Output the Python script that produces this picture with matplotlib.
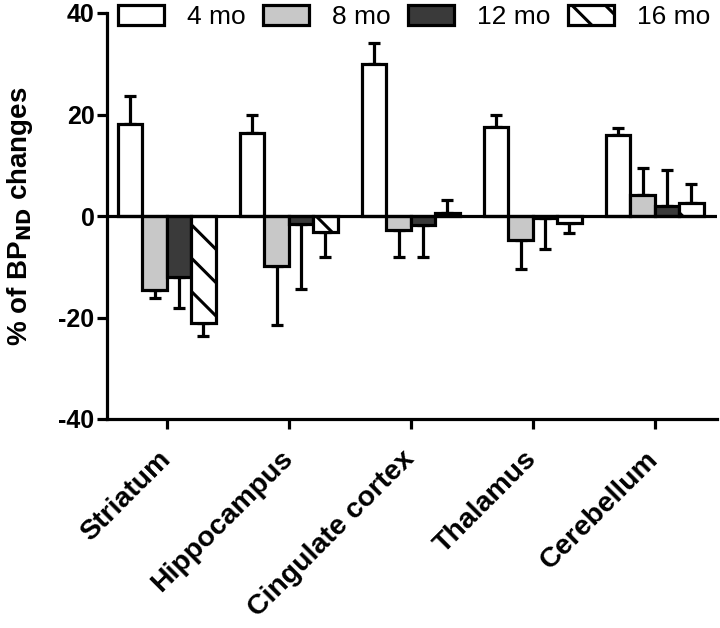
import numpy as np
import matplotlib
matplotlib.use("Agg")
import matplotlib.pyplot as plt

plt.rcParams['font.family'] = ['Liberation Sans', 'DejaVu Sans']
plt.rcParams['axes.unicode_minus'] = False
plt.rcParams['hatch.linewidth'] = 2.2

regions = ["Striatum", "Hippocampus", "Cingulate cortex", "Thalamus", "Cerebellum"]
groups = ["4 mo", "8 mo", "12 mo", "16 mo"]

# mean % change of BPND per region, one list per age
mo4 = [18.2, 16.3, 30.0, 17.6, 15.9]
mo8 = [-14.5, -9.8, -2.7, -4.7, 4.1]
mo12 = [-12.0, -1.5, -1.8, -0.3, 2.0]
mo16 = [-21.0, -3.2, 0.5, -1.4, 2.5]

# SEM
err4 = [5.4, 3.7, 4.0, 2.3, 1.5]
err8 = [1.7, 11.6, 5.3, 5.8, 5.4]
err12 = [6.2, 12.9, 6.3, 6.3, 7.1]
err16 = [2.7, 4.9, 2.6, 2.0, 3.8]

means = [mo4, mo8, mo12, mo16]
errs = [err4, err8, err12, err16]
colors = ["white", "#c8c8c8", "#3a3a3a", "white"]
hatches = [None, None, None, "\\"]

fig = plt.figure(figsize=(7.2, 6.28), dpi=100)
ax = fig.add_axes([107 / 720, 1 - 419 / 628, 610 / 720, 406 / 628])

x = np.arange(len(regions))
width = 0.2
offsets = [-0.3, -0.1, 0.1, 0.3]
lw = 2.3

handles = []
for m, e, c, h, off, lab in zip(means, errs, colors, hatches, offsets, groups):
    m = np.array(m)
    e = np.array(e)
    # one-sided error bars, pointing away from zero
    lower = np.where(m < 0, e, 0)
    upper = np.where(m >= 0, e, 0)
    ax.errorbar(x + off, m, yerr=[lower, upper], fmt="none", ecolor="black",
                elinewidth=lw, capsize=4.5, capthick=lw, zorder=2)
    b = ax.bar(x + off, m, width, color=c, edgecolor="black", linewidth=lw,
               hatch=h, label=lab, zorder=3)
    handles.append(b)

ax.axhline(0, color="black", linewidth=lw, zorder=4)

ax.set_xlim(-0.49, 4.51)
ax.set_ylim(-40, 40)
ax.set_yticks([-40, -20, 0, 20, 40])
ax.set_xticks(x)
ax.set_xticklabels(regions, rotation=45, ha="right", va="center", rotation_mode="anchor",
                   fontsize=20.5, fontweight="bold")
for t in ax.get_yticklabels():
    t.set_fontsize(18)
    t.set_fontweight("bold")

for s in ["top", "right"]:
    ax.spines[s].set_visible(False)
for s in ["left", "bottom"]:
    ax.spines[s].set_linewidth(lw)
ax.tick_params(axis="both", width=lw, length=7, direction="out")
ax.tick_params(axis="x", pad=19)
ax.tick_params(axis="y", pad=2)

ax.set_ylabel("% of BP$_{\\mathbf{ND}}$ changes", fontsize=20, fontweight="bold", labelpad=17)

fig.legend(handles=handles, labels=groups, loc="center", ncol=4, frameon=False,
           bbox_to_anchor=(414 / 720, 1 - 17 / 628), fontsize=19,
           handlelength=1.75, handleheight=0.83, handletextpad=0.85, columnspacing=0.68,
           borderaxespad=0)

fig.savefig("out.png", dpi=100)
